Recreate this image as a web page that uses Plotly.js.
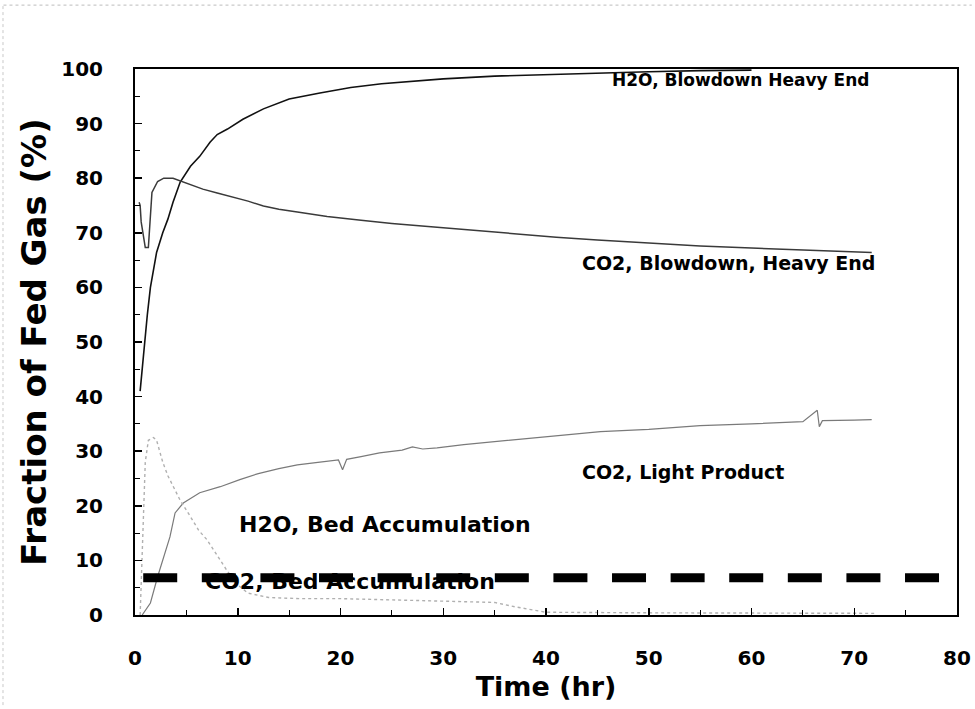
<!DOCTYPE html>
<html>
<head>
<meta charset="utf-8">
<script src="https://cdn.plot.ly/plotly-3.0.1.min.js"></script>
<style>
  html, body { margin: 0; padding: 0; background: #ffffff; }
  #chart { width: 975px; height: 709px; }
</style>
</head>
<body>
<div id="chart"></div>
<script>
// ---- Data ----
const xTickValues = [0, 10, 20, 30, 40, 50, 60, 70, 80];
const yTickValues = [0, 10, 20, 30, 40, 50, 60, 70, 80, 90, 100];

const seriesNames = [
  "H2O, Blowdown Heavy End",
  "CO2, Blowdown, Heavy End",
  "CO2, Light Product",
  "H2O, Bed Accumulation",
  "CO2, Bed Accumulation"
];

// H2O, Blowdown Heavy End (black)
const h2oBlowTime  = [0.5, 0.6, 0.8, 1.0, 1.2, 1.5, 1.8, 2.1, 2.7, 3.2, 3.7, 4.4, 5.4, 6.3, 7.3, 8.0, 9.0, 10.5, 12.5, 15, 18, 21, 24, 27, 30, 35, 40, 45, 50, 55, 60];
const h2oBlowValue = [41, 43, 48, 51, 55, 60, 63, 66.4, 70, 72.5, 75.6, 79.3, 82.2, 84, 86.6, 88, 89, 90.8, 92.7, 94.5, 95.6, 96.6, 97.3, 97.8, 98.2, 98.7, 99.0, 99.3, 99.5, 99.7, 99.8];

// CO2, Blowdown, Heavy End (dark grey)
const co2BlowTime  = [0.4, 0.5, 0.6, 0.8, 1.0, 1.3, 1.45, 1.65, 2.2, 2.8, 3.7, 4.7, 5.5, 6.6, 8.0, 9.2, 11, 12.5, 14, 15.8, 18.7, 22, 25, 29.4, 33, 37, 41, 45, 50, 55, 60, 65, 70, 71.7];
const co2BlowValue = [75.6, 75, 72, 70, 67.3, 67.3, 72.5, 77.4, 79.4, 80, 80, 79.3, 78.7, 78, 77.3, 76.7, 75.8, 74.9, 74.3, 73.8, 73, 72.3, 71.7, 71, 70.4, 69.8, 69.2, 68.7, 68.1, 67.6, 67.2, 66.9, 66.5, 66.4];

// CO2, Light Product (grey)
const co2LightTime  = [0.7, 1.0, 1.5, 2.2, 2.7, 3.4, 3.9, 4.7, 6.3, 8.3, 10.2, 12, 14, 15.8, 18, 19.8, 20.2, 20.6, 22, 23.8, 26, 27, 28, 29.4, 32, 36.7, 40, 45.3, 50, 55, 60, 65, 66.4, 66.6, 66.9, 68, 70, 71.7];
const co2LightValue = [0, 0.8, 2.2, 7, 10, 14.3, 18.7, 20.5, 22.4, 23.5, 24.8, 25.9, 26.8, 27.5, 28, 28.4, 26.6, 28.5, 29, 29.7, 30.2, 30.8, 30.4, 30.6, 31.2, 32, 32.6, 33.6, 34, 34.7, 35, 35.4, 37.5, 34.5, 35.6, 35.6, 35.7, 35.8];

// H2O, Bed Accumulation (light grey dotted)
const h2oBedTime  = [0.5, 0.8, 1.0, 1.3, 1.8, 2.1, 2.7, 3.2, 3.7, 4.4, 5.4, 6.2, 7, 8, 9, 10, 11, 13, 16, 20, 25, 30, 35, 37, 40, 50, 60, 72];
const h2oBedValue = [0, 15, 28, 32, 32.5, 32, 28, 25.5, 23.5, 21, 18, 15.5, 13.8, 11, 8, 5.5, 4, 3.2, 3, 3, 2.8, 2.6, 2.3, 1.5, 0.5, 0.4, 0.3, 0.3];

// CO2, Bed Accumulation (thick black dashes)
const co2BedTime  = [0.8, 78.35];
const co2BedValue = [6.8, 6.8];

// Label anchor points (data units)
const labelTime  = [58.9, 57.8, 53.3, 24.3, 20.9];
const labelValue = [98.0, 64.4, 26.2, 16.5, 6.2];
const labelSize  = [17, 19, 19, 22, 22];

// ---- Traces ----
const traces = [
  { x: h2oBlowTime, y: h2oBlowValue, name: seriesNames[0], mode: 'lines',
    line: { color: '#111111', width: 1.6 } },
  { x: co2BlowTime, y: co2BlowValue, name: seriesNames[1], mode: 'lines',
    line: { color: '#3a3a3a', width: 1.5 } },
  { x: co2LightTime, y: co2LightValue, name: seriesNames[2], mode: 'lines',
    line: { color: '#7a7a7a', width: 1.2 } },
  { x: h2oBedTime, y: h2oBedValue, name: seriesNames[3], mode: 'lines',
    line: { color: '#b0b0b0', width: 1.4, dash: 'dot' } },
  { x: co2BedTime, y: co2BedValue, name: seriesNames[4], mode: 'lines',
    line: { color: '#000000', width: 9, dash: '34px,24.6px' } }
];

const annotations = seriesNames.map((n, i) => ({
  x: labelTime[i], y: labelValue[i], xref: 'x', yref: 'y',
  text: n, showarrow: false, xanchor: 'center', yanchor: 'middle',
  font: { family: 'DejaVu Sans', size: labelSize[i], color: '#000000', weight: 'bold' }
}));

const tickFont = { family: 'DejaVu Sans', size: 20, color: '#000000', weight: 'bold' };

const layout = {
  width: 975, height: 709,
  paper_bgcolor: '#ffffff', plot_bgcolor: '#ffffff',
  margin: { l: 135, r: 18, t: 69, b: 94 },
  showlegend: false,
  xaxis: {
    range: [0, 80], tickvals: xTickValues, ticktext: xTickValues.map(String),
    ticks: 'inside', ticklen: 7, tickwidth: 1.5, tickcolor: '#000',
    minor: { dtick: 5, ticks: 'inside', ticklen: 5, tickwidth: 1, tickcolor: '#000' },
    showline: true, linecolor: '#000', linewidth: 2, mirror: true,
    showgrid: false, zeroline: false,
    tickfont: tickFont, ticklabelstandoff: 24,
    title: { text: 'Time (hr)', standoff: 8,
      font: { family: 'DejaVu Sans', size: 27, color: '#000', weight: 'bold' } }
  },
  yaxis: {
    range: [0, 100], tickvals: yTickValues, ticktext: yTickValues.map(String),
    ticks: 'inside', ticklen: 7, tickwidth: 1.5, tickcolor: '#000',
    minor: { dtick: 5, ticks: 'inside', ticklen: 5, tickwidth: 1, tickcolor: '#000' },
    showline: true, linecolor: '#000', linewidth: 2, mirror: true,
    showgrid: false, zeroline: false,
    tickfont: tickFont, ticklabelstandoff: 26,
    title: { text: 'Fraction of Fed Gas (%)', standoff: 4,
      font: { family: 'DejaVu Sans', size: 34, color: '#000', weight: 'bold' } }
  },
  annotations: annotations,
  shapes: [
    { type: 'line', xref: 'paper', yref: 'paper', x0: -0.16, x1: 1.018, y0: 1.117, y1: 1.117,
      line: { color: '#bdbdbd', width: 1, dash: 'dot' } },
    { type: 'line', xref: 'paper', yref: 'paper', x0: -0.1606, x1: -0.1606, y0: -0.165, y1: 1.117,
      line: { color: '#c8c8c8', width: 1, dash: 'dot' } }
  ]
};

Plotly.newPlot('chart', traces, layout, { displayModeBar: false, staticPlot: true });
</script>
</body>
</html>
